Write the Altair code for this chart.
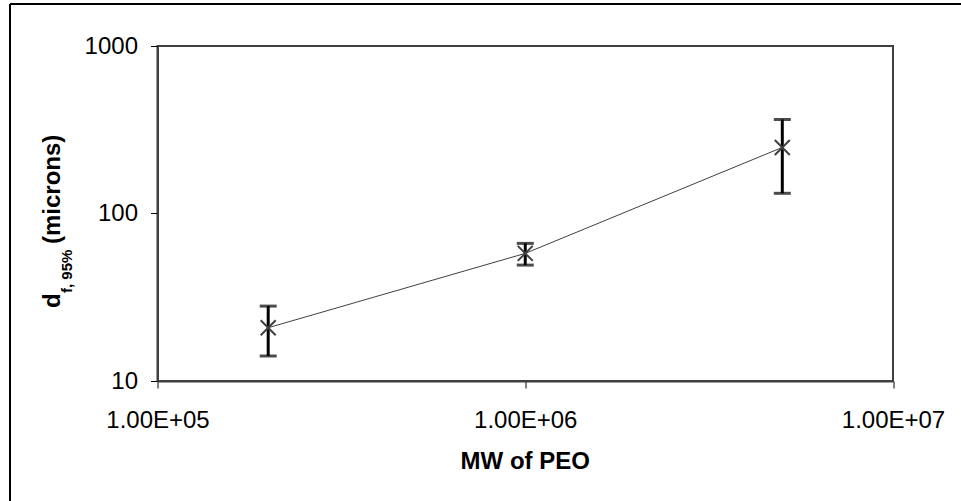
import altair as alt
import pandas as pd

# PEO molecular weight vs. 95th-percentile fiber diameter
MW = [2.0e5, 1.0e6, 5.0e6]
D95 = [20.8, 57.8, 248.0]
D95_LOW = [14.1, 49.2, 132.0]
D95_HIGH = [28.0, 66.3, 364.0]

X_TICKS = [1e5, 1e6, 1e7]
X_TICK_LABELS = ["1.00E+05", "1.00E+06", "1.00E+07"]
Y_TICKS = [10, 100, 1000]

FONT = "Liberation Sans"
W, H = 735.5, 335
PAD = {"left": 157.5, "top": 46, "right": 68, "bottom": 120}

df = pd.DataFrame({"mw": MW, "d": D95, "lo": D95_LOW, "hi": D95_HIGH})

# tick label lookup built from the label list
label_expr = " : ".join(
    f"datum.value == {int(v)} ? '{t}'" for v, t in zip(X_TICKS, X_TICK_LABELS)
) + " : ''"

x_scale = alt.Scale(type="log", domain=[1e5, 1e7], nice=False)
y_scale = alt.Scale(type="log", domain=[10, 1000], nice=False)

x_axis = alt.Axis(
    values=X_TICKS, labelExpr=label_expr, title=None, grid=False,
    labelFont=FONT, labelFontSize=24, labelColor="black",
    labelPadding=20, labelFlush=False, labelOverlap=False,
    tickSize=7, tickColor="black", tickWidth=1,
    domainColor="#404040", domainWidth=2,
)
y_axis = alt.Axis(
    values=Y_TICKS, format="d", title=None, grid=False,
    labelFont=FONT, labelFontSize=24, labelColor="black",
    labelPadding=13, labelFlush=False, labelOverlap=False,
    tickSize=7, tickColor="black", tickWidth=1,
    domainColor="#404040", domainWidth=2,
)

base = alt.Chart(df)

line = base.mark_line(color="#404040", strokeWidth=1).encode(
    x=alt.X("mw:Q", scale=x_scale, axis=x_axis),
    y=alt.Y("d:Q", scale=y_scale, axis=y_axis),
)

bars = base.mark_rule(color="black", strokeWidth=3).encode(
    x=alt.X("mw:Q", scale=x_scale),
    y=alt.Y("lo:Q", scale=y_scale),
    y2="hi:Q",
)

cap_lo = base.mark_tick(color="black", thickness=3, size=17, orient="horizontal").encode(
    x=alt.X("mw:Q", scale=x_scale),
    y=alt.Y("lo:Q", scale=y_scale),
)
cap_hi = base.mark_tick(color="black", thickness=3, size=17, orient="horizontal").encode(
    x=alt.X("mw:Q", scale=x_scale),
    y=alt.Y("hi:Q", scale=y_scale),
)

markers = base.mark_point(
    shape="M-1,-1L1,1M-1,1L1,-1", filled=False, color="#404040",
    strokeWidth=2, size=225, opacity=1,
).encode(
    x=alt.X("mw:Q", scale=x_scale),
    y=alt.Y("d:Q", scale=y_scale),
)

one = alt.Data(values=[{}])

# axis titles
x_title = alt.Chart(one).mark_text(
    text="MW of PEO", font=FONT, fontSize=24, fontWeight="bold",
    align="center", baseline="alphabetic", color="black",
).encode(x=alt.value(W / 2), y=alt.value(423))

y_d = alt.Chart(one).mark_text(
    text="d", font=FONT, fontSize=24, fontWeight="bold", angle=270,
    align="left", baseline="alphabetic", color="black",
).encode(x=alt.value(-97.5), y=alt.value(262))
y_sub = alt.Chart(one).mark_text(
    text="f, 95%", font=FONT, fontSize=15, fontWeight="bold", angle=270,
    align="left", baseline="alphabetic", color="black",
).encode(x=alt.value(-85.5), y=alt.value(247))
y_rest = alt.Chart(one).mark_text(
    text="(microns)", font=FONT, fontSize=24, fontWeight="bold", angle=270,
    align="left", baseline="alphabetic", color="black",
).encode(x=alt.value(-97.5), y=alt.value(198))

# outer frame (left and top edges)
frame_left = alt.Chart(one).mark_rule(color="black", strokeWidth=2).encode(
    x=alt.value(-147.5), y=alt.value(-42), y2=alt.value(600)
)
frame_top = alt.Chart(one).mark_rule(color="black", strokeWidth=2).encode(
    x=alt.value(-147.5), x2=alt.value(1000), y=alt.value(-42)
)

chart = alt.layer(
    frame_left, frame_top, line, bars, cap_lo, cap_hi, markers,
    x_title, y_d, y_sub, y_rest,
).properties(
    width=W, height=H,
    autosize=alt.AutoSizeParams(type="none"),
    padding=PAD,
    background="white",
).configure_view(
    stroke="#404040", strokeWidth=2,
)

chart.save("out.html", embed_options={"renderer": "svg", "actions": False})
